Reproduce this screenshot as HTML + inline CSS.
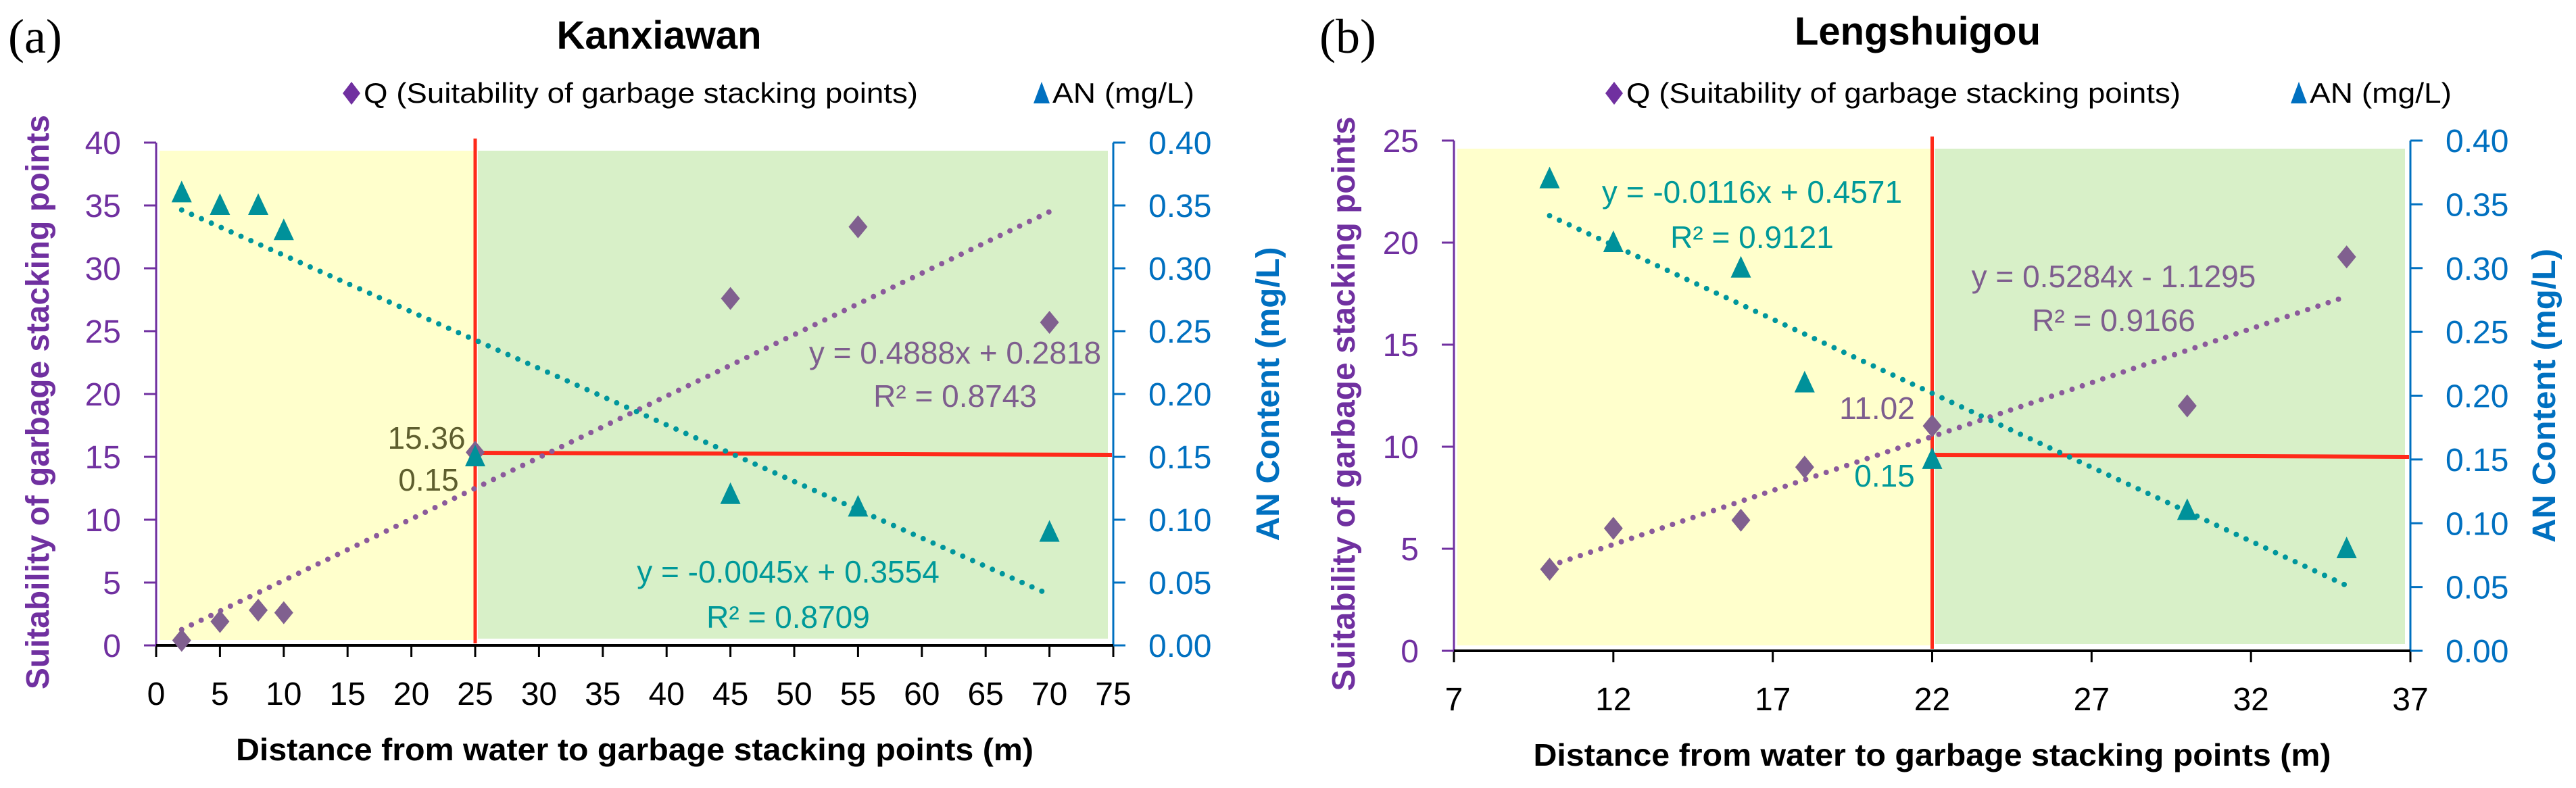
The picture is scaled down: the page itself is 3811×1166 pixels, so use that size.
<!DOCTYPE html>
<html><head><meta charset="utf-8"><style>
html,body{margin:0;padding:0;background:#fff;}
svg{display:block;font-family:"Liberation Sans",sans-serif;}
</style></head><body>
<svg id="root" width="3811" height="1166" viewBox="0 0 3811 1166" xmlns="http://www.w3.org/2000/svg"></svg>
<script>
// ---- Chart (a) Kanxiawan data ----
const aXTicks = [0,5,10,15,20,25,30,35,40,45,50,55,60,65,70,75];
const aYTicks = [0,5,10,15,20,25,30,35,40];
const aY2Ticks = ["0.00","0.05","0.10","0.15","0.20","0.25","0.30","0.35","0.40"];
const aQx = [2,5,8,10,25,45,55,70];
const aQy = [0.4,1.9,2.8,2.6,15.36,27.6,33.3,25.7];
const aANx = [2,5,8,10,25,45,55,70];
const aANy = [0.36,0.35,0.35,0.33,0.15,0.12,0.11,0.09];
const aQfit = [0.4888,0.2818];
const aANfit = [-0.0045,0.3554];
// ---- Chart (b) Lengshuigou data ----
const bXTicks = [7,12,17,22,27,32,37];
const bYTicks = [0,5,10,15,20,25];
const bY2Ticks = ["0.00","0.05","0.10","0.15","0.20","0.25","0.30","0.35","0.40"];
const bQx = [10,12,16,18,22,30,35];
const bQy = [4,6,6.4,9,11.02,12,19.3];
const bANx = [10,12,16,18,22,30,35];
const bANy = [0.37,0.32,0.30,0.21,0.15,0.11,0.08];
const bQfit = [0.5284,-1.1295];
const bANfit = [-0.0116,0.4571];

const NS="http://www.w3.org/2000/svg";
const root=document.getElementById('root');
function mk(tag,attrs,parent,text){const e=document.createElementNS(NS,tag);for(const k in attrs)e.setAttribute(k,attrs[k]);if(text!==undefined)e.textContent=text;(parent||root).appendChild(e);return e;}

function chart(c){
  const g=mk('g',{});
  
  
  const X=v=>c.x0+(v-c.xmin)/(c.xmax-c.xmin)*(c.x1-c.x0);
  const Y=v=>c.y0-(v-c.ymin)/(c.ymax-c.ymin)*(c.y0-c.y1);
  const Y2=v=>c.y0-v/0.4*(c.y0-c.y1);
  // backgrounds
  const yb=mk('rect',{x:c.x0+5,y:c.y1+12,width:X(c.split)-c.x0-5,height:c.y0-c.y1-20,fill:'#FFFFCC'},g);
  
  
  const gb=mk('rect',{x:X(c.split)+4,y:c.y1+12,width:c.x1-X(c.split)-12,height:c.y0-c.y1-22,fill:'#D8F0C8'},g);
  
  
  // title & label
  const t=mk('text',{x:c.titleX,y:c.titleY,'text-anchor':'middle','font-size':58,'font-weight':'bold',fill:'#000'},g,c.title);
  
  
  const pl=mk('text',{x:c.panelX,y:78,'font-size':72,'font-family':'"Liberation Serif",serif',fill:'#000'},g,c.panel);
  
  
  // legend
  const lg=mk('g',{},g);
  
  
  const lx=c.legQ, ly=138;
  mk('polygon',{points:`${lx},${ly-17} ${lx+13},${ly} ${lx},${ly+17} ${lx-13},${ly}`,fill:'#7030A0'},lg);
  const lq=mk('text',{x:lx+18,y:ly+14,'font-size':42,fill:'#000',textLength:c.legQw,lengthAdjust:'spacingAndGlyphs'},lg,'Q (Suitability of garbage stacking points)');
  
  
  const ax=c.legA;
  mk('polygon',{points:`${ax},${ly-17} ${ax+12},${ly+15} ${ax-12},${ly+15}`,fill:'#0070C0'},lg);
  const la=mk('text',{x:ax+16,y:ly+14,'font-size':42,fill:'#000',textLength:c.legAw,lengthAdjust:'spacingAndGlyphs'},lg,'AN (mg/L)');
  
  
  // axes
  const yl=mk('line',{x1:c.x0,y1:c.y1,x2:c.x0,y2:c.y0,stroke:'#7030A0','stroke-width':3},g);
  
  
  const yr=mk('line',{x1:c.x1,y1:c.y1,x2:c.x1,y2:c.y0,stroke:'#0070C0','stroke-width':3},g);
  
  
  const xl=mk('line',{x1:c.x0,y1:c.y0,x2:c.x1,y2:c.y0,stroke:'#000','stroke-width':4},g);
  
  
  c.xt.forEach(v=>{
    mk('line',{x1:X(v),y1:c.y0,x2:X(v),y2:c.y0+17,stroke:'#000','stroke-width':3},g);
    const tl=mk('text',{x:X(v),y:c.y0+88,'text-anchor':'middle','font-size':48,fill:'#000'},g,String(v));
    
    
  });
  c.yt.forEach(v=>{
    mk('line',{x1:c.x0-18,y1:Y(v),x2:c.x0,y2:Y(v),stroke:'#7030A0','stroke-width':3},g);
    const tl=mk('text',{x:c.x0-52,y:Y(v)+17,'text-anchor':'end','font-size':48,fill:'#7030A0'},g,String(v));
    
    
  });
  c.y2t.forEach(s=>{
    const v=parseFloat(s);
    mk('line',{x1:c.x1,y1:Y2(v),x2:c.x1+18,y2:Y2(v),stroke:'#0070C0','stroke-width':3},g);
    const tl=mk('text',{x:c.x1+52,y:Y2(v)+17,'font-size':48,fill:'#0070C0'},g,s);
    
    
  });
  const xt=mk('text',{x:(c.x0+c.x1)/2,y:c.y0+170,'text-anchor':'middle','font-size':46,'font-weight':'bold',fill:'#000',textLength:1180,lengthAdjust:'spacingAndGlyphs'},g,'Distance from water to garbage stacking points (m)');
  
  
  const ytl=mk('text',{x:0,y:0,'text-anchor':'middle','font-size':48,'font-weight':'bold',fill:'#7030A0',transform:`translate(${c.yTitleX},${(c.y0+c.y1)/2+12}) rotate(-90)`,textLength:850,lengthAdjust:'spacingAndGlyphs'},g,'Suitability of garbage stacking points');
  
  
  const y2tl=mk('text',{x:0,y:0,'text-anchor':'middle','font-size':48,'font-weight':'bold',fill:'#0070C0',transform:`translate(${c.y2TitleX},${(c.y0+c.y1)/2}) rotate(-90)`,textLength:435,lengthAdjust:'spacingAndGlyphs'},g,'AN Content (mg/L)');
  
  
  // red lines
  const rv=mk('line',{x1:X(c.split),y1:c.y1-6,x2:X(c.split),y2:c.y0-3,stroke:'#FF2A1A','stroke-width':5},g);
  
  
  const rh=mk('line',{x1:X(c.split),y1:c.hY,x2:c.x1-2,y2:c.hY+3,stroke:'#FF2A1A','stroke-width':6},g);
  
  
  // trendlines
  const q0=c.Qx[0], q1=c.Qx[c.Qx.length-1];
  const tq=mk('line',{x1:X(q0),y1:Y(c.Qf[0]*q0+c.Qf[1]),x2:X(q1),y2:Y(c.Qf[0]*q1+c.Qf[1]),stroke:'#8B5A9B','stroke-width':8,'stroke-linecap':'round','stroke-dasharray':'0 16'},g);
  
  
  const ta=mk('line',{x1:X(q0),y1:Y2(c.Af[0]*q0+c.Af[1]),x2:X(q1),y2:Y2(c.Af[0]*q1+c.Af[1]),stroke:'#00969C','stroke-width':8,'stroke-linecap':'round','stroke-dasharray':'0 16'},g);
  
  
  // points
  c.Qx.forEach((x,i)=>{
    const px=X(x),py=Y(c.Qy[i]);
    const d=mk('polygon',{points:`${px},${py-17} ${px+14},${py} ${px},${py+17} ${px-14},${py}`,fill:'#80608F'},g);
    
    
  });
  c.Ax.forEach((x,i)=>{
    const px=X(x),py=Y2(c.Ay[i]);
    const d=mk('polygon',{points:`${px},${py-18} ${px+15},${py+14} ${px-15},${py+14}`,fill:'#00919A'},g);
    
    
  });
  // annotations
  c.ann.forEach(a=>{
    const e=mk('text',{x:a[0],y:a[1],'text-anchor':'middle','font-size':46,fill:a[3]},g,a[2]);
    
    
  });
}

chart({name:'chart-kanxiawan',title:'Kanxiawan',titleX:975,titleY:72,panel:'(a)',panelX:12,
  x0:231,x1:1647,y0:955,y1:211,xmin:0,xmax:75,ymin:0,ymax:40,
  xt:aXTicks,yt:aYTicks,y2t:aY2Ticks,Qx:aQx,Qy:aQy,Ax:aANx,Ay:aANy,Qf:aQfit,Af:aANfit,
  split:25,hY:670,legQ:520,legQw:820,legA:1541,legAw:210,yTitleX:72,y2TitleX:1892,
  ann:[[631,664,'15.36','#5E5E2E'],[634,726,'0.15','#5E5E2E'],
       [1413,538,'y = 0.4888x + 0.2818','#7E5E8E'],[1413,602,'R² = 0.8743','#7E5E8E'],
       [1166,862,'y = -0.0045x + 0.3554','#009999'],[1166,929,'R² = 0.8709','#009999']]});

chart({name:'chart-lengshuigou',title:'Lengshuigou',titleX:2837,titleY:66,panel:'(b)',panelX:1952,
  x0:2151,x1:3566,y0:963,y1:208,xmin:7,xmax:37,ymin:0,ymax:25,
  xt:bXTicks,yt:bYTicks,y2t:bY2Ticks,Qx:bQx,Qy:bQy,Ax:bANx,Ay:bANy,Qf:bQfit,Af:bANfit,
  split:22,hY:673,legQ:2388,legQw:820,legA:3401,legAw:210,yTitleX:2004,y2TitleX:3890-110,
  ann:[[2592,300,'y = -0.0116x + 0.4571','#009999'],[2592,367,'R² = 0.9121','#009999'],
       [3127,425,'y = 0.5284x - 1.1295','#7E5E8E'],[3127,490,'R² = 0.9166','#7E5E8E'],
       [2777,620,'11.02','#7E5E8E'],[2788,720,'0.15','#009999']]});
</script>
</body></html>
